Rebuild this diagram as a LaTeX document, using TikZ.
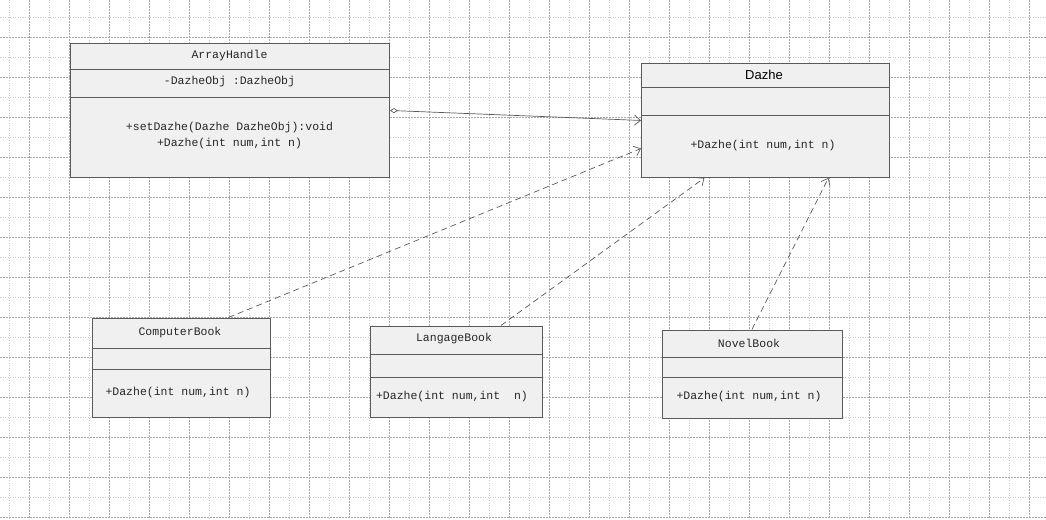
\documentclass[tikz,border=0pt]{standalone}
\usepackage{fontspec}
\setmainfont{Liberation Sans}
\setmonofont{Liberation Mono}
\usetikzlibrary{positioning,arrows.meta}
\definecolor{boxfill}{HTML}{F0F0F0}
\definecolor{boxline}{HTML}{5A5A5A}
\definecolor{gridlight}{HTML}{C8C8C8}
\definecolor{griddark}{HTML}{A8A8A8}
\tikzset{
  classbox/.style={draw=boxline, fill=boxfill, line width=0.9pt, inner sep=0pt, anchor=north west},
  divider/.style={draw=boxline, line width=0.9pt},
  member/.style={font=\ttfamily\fontsize{11.5}{13}\selectfont, text=black!85, inner sep=0pt},
  title/.style={font=\fontsize{13}{15}\selectfont, text=black, inner sep=0pt},
  link/.style={draw=black!65, line width=0.7pt},
  aggr/.style={link, {Diamond[open, length=8pt, width=5pt]}-{Straight Barb[length=6pt, width=10pt]}},
  realize/.style={link, dash pattern=on 6pt off 4pt, -{Straight Barb[length=6pt, width=10pt]}}
}
\begin{document}
\begin{tikzpicture}[x=1pt,y=-1pt]
\useasboundingbox (0,0) rectangle (1046,519);
\fill[white] (0,0) rectangle (1046,519);
% grid
\foreach \k in {0,...,51} {
  \pgfmathsetmacro{\gx}{9+20*\k}
  \ifodd\k
    \draw[griddark, line width=0.5pt, dash pattern=on 2pt off 1pt] (\gx,0) -- (\gx,519);
  \else
    \draw[gridlight, line width=0.5pt, dotted] (\gx,0) -- (\gx,519);
  \fi
}
\foreach \k in {0,...,25} {
  \pgfmathsetmacro{\gy}{17+20*\k}
  \ifodd\k
    \draw[griddark, line width=0.5pt, dash pattern=on 2pt off 1pt] (0,\gy) -- (1046,\gy);
  \else
    \draw[gridlight, line width=0.5pt, dotted] (0,\gy) -- (1046,\gy);
  \fi
}

% ArrayHandle
\node[classbox, minimum width=319pt, minimum height=134pt] (ah) at (70,43) {};
\draw[divider] ([yshift=-26pt]ah.north west) -- ([yshift=-26pt]ah.north east);
\draw[divider] ([yshift=-54pt]ah.north west) -- ([yshift=-54pt]ah.north east);
\node[member] (ahname) at (229.5,56) {ArrayHandle};
\node[member] (ahattr) at (229.5,82) {-DazheObj :DazheObj};
\node[member] (ahop1) at (229.5,128) {+setDazhe(Dazhe DazheObj):void};
\node[member] (ahop2) at (229.5,144) {+Dazhe(int num,int n)};

% Dazhe
\node[classbox, minimum width=248pt, minimum height=114pt] (dz) at (641,63) {};
\draw[divider] ([yshift=-24pt]dz.north west) -- ([yshift=-24pt]dz.north east);
\draw[divider] ([yshift=-52pt]dz.north west) -- ([yshift=-52pt]dz.north east);
\node[title] (dzname) at (764,75) {Dazhe};
\node[member] (dzop) at (763,146) {+Dazhe(int num,int n)};

% ComputerBook
\node[classbox, minimum width=178pt, minimum height=99pt] (cb) at (92,317.5) {};
\draw[divider] ([yshift=-31pt]cb.north west) -- ([yshift=-31pt]cb.north east);
\draw[divider] ([yshift=-52pt]cb.north west) -- ([yshift=-52pt]cb.north east);
\node[member] (cbname) at (180,333) {ComputerBook};
\node[member] (cbop) at (178,393) {+Dazhe(int num,int n)};

% LangageBook
\node[classbox, minimum width=172pt, minimum height=91pt] (lb) at (369.5,325.5) {};
\draw[divider] ([yshift=-29pt]lb.north west) -- ([yshift=-29pt]lb.north east);
\draw[divider] ([yshift=-52pt]lb.north west) -- ([yshift=-52pt]lb.north east);
\node[member] (lbname) at (454,339) {LangageBook};
\node[member] (lbop) at (452,397) {+Dazhe(int num,int \ n)};

% NovelBook
\node[classbox, minimum width=180pt, minimum height=88pt] (nb) at (661.5,329.5) {};
\draw[divider] ([yshift=-28pt]nb.north west) -- ([yshift=-28pt]nb.north east);
\draw[divider] ([yshift=-48pt]nb.north west) -- ([yshift=-48pt]nb.north east);
\node[member] (nbname) at (749,343) {NovelBook};
\node[member] (nbop) at (749,397) {+Dazhe(int num,int n)};

% relations
\draw[aggr] (ah.east) -- (dz.west);
\draw[realize] ([xshift=47pt]cb.north) -- ([yshift=-28pt]dz.west);
\draw[realize] ([xshift=45pt]lb.north) -- ([xshift=-61pt]dz.south);
\draw[realize] (nb.north) -- ([xshift=63pt]dz.south);
\end{tikzpicture}
\end{document}
